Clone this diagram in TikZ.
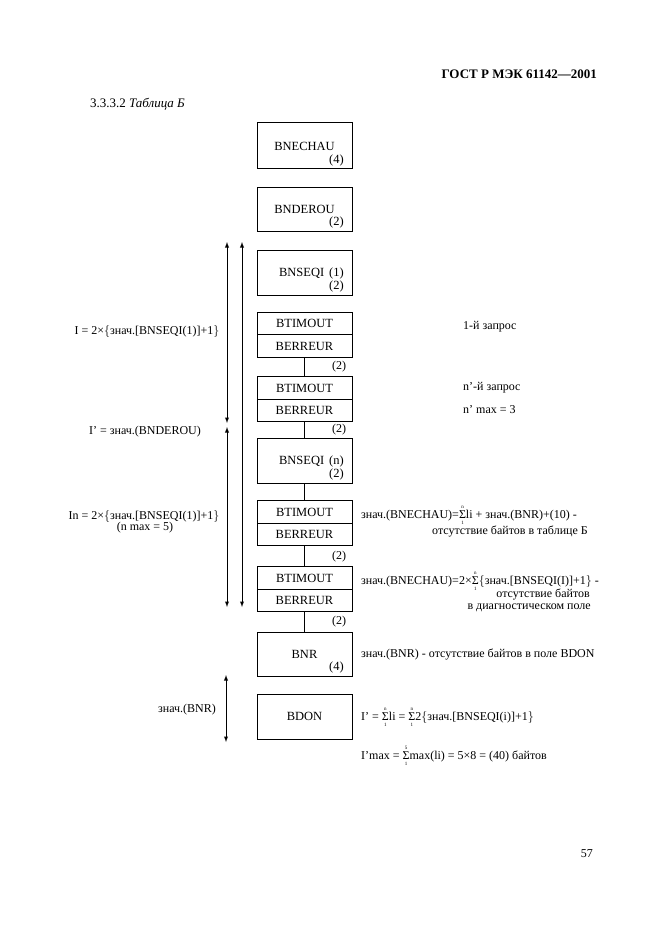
\documentclass[tikz,border=0pt]{standalone}
\usepackage{fontspec}
\setmainfont{Liberation Serif}
\usetikzlibrary{positioning}
\newcommand\sumgr[2]{\ensuremath{\mathop{\hbox{Σ}}\limits_{\hbox{\fontsize{5}{5}\selectfont #1}}^{\hbox{\fontsize{5}{5}\selectfont #2}}}}
\newcommand\klauf{\ensuremath{\bigl\{}}
\newcommand\klzu{\ensuremath{\bigr\}}}
\tikzset{
  Kasten/.style={draw, line width=1pt, minimum width=95pt, minimum height=#1,
    inner sep=0pt, outer sep=0pt, font=\fontsize{12.5}{14}\selectfont}, % für Blöcke
  Kasten/.default=45pt,
  Feld/.style={Kasten=22.5pt}, % halbe Blöcke
  Nr/.style={inner sep=0pt, anchor=base east}, % Zahlen im Block
  BNr/.style={Nr, font=\fontsize{12.5}{14}\selectfont}, % Zahlen im Block
  Txt/.style={inner sep=0pt, anchor=base west}, % Texte rechts
  Zw/.style={inner sep=0pt, anchor=west, xshift=27pt}, % Zahlen an Verbindungen
  Masz/.style={<->, line width=.9pt} % Maßpfeile
}

\begin{document}
\begin{tikzpicture}[x=1pt, y=-1pt,
font=\fontsize{12}{14}\selectfont,
>=latex % Voreinstellung für Pfeilspitzen
]
\useasboundingbox (0,0) rectangle (661,936);

%Kopf
\node[inner sep=0pt, anchor=base east, font=\fontsize{13}{15}\selectfont\bfseries] (kopf) at (597,79) {ГОСТ Р МЭК 61142—2001};
\node[Txt, font=\fontsize{13}{15}\selectfont] (titel) at (90,108) {3.3.3.2 \textit{Таблица Б}};

%Blöcke
\node[Kasten=46pt] (BNECHAU) at (304.5,146) {BNECHAU};
\node[BNr] (nBNECHAU) at ([xshift=-8pt, yshift=5.5pt]BNECHAU.south east) {(4)};

\node[Kasten=44pt] (BNDEROU) at (304.5,209) {BNDEROU};
\node[BNr] (nBNDEROU) at ([xshift=-8pt, yshift=5.5pt]BNDEROU.south east) {(2)};

\node[Kasten] (SEQ1) at (304.5,272.5) {};
\node[BNr] (tSEQ1) at ([xshift=-8pt, yshift=-4pt]SEQ1.east) {BNSEQI\hspace{5pt}(1)};
\node[BNr] (nSEQ1) at ([xshift=-8pt, yshift=5.5pt]SEQ1.south east) {(2)};

\node[Feld] (T1a) at (304.5,323.5) {BTIMOUT};
\node[Feld, below=0pt of T1a] (T1b) {BERREUR};

\node[Feld=22pt] (T2a) at (304.5,388) {BTIMOUT};
\node[Feld, below=0pt of T2a] (T2b) {BERREUR};

\node[Kasten] (SEQn) at (304.5,460.5) {};
\node[BNr] (tSEQn) at ([xshift=-8pt, yshift=-4pt]SEQn.east) {BNSEQI\hspace{5pt}(n)};
\node[BNr] (nSEQn) at ([xshift=-8pt, yshift=5.5pt]SEQn.south east) {(2)};

\node[Feld] (T3a) at (304.5,512) {BTIMOUT};
\node[Feld, below=0pt of T3a] (T3b) {BERREUR};

\node[Feld] (T4a) at (304.5,578) {BTIMOUT};
\node[Feld, below=0pt of T4a] (T4b) {BERREUR};

\node[Kasten=44pt] (BNR) at (304.5,654) {BNR};
\node[BNr] (nBNR) at ([xshift=-8pt, yshift=5.5pt]BNR.south east) {(4)};

\node[Kasten] (BDON) at (304.5,716.5) {BDON};

%Verbindungen
\draw[line width=1pt] (T1b) -- node[Zw] (z1) {(2)} (T2a);
\draw[line width=1pt] (T2b) -- node[Zw] (z2) {(2)} (SEQn);
\draw[line width=1pt] (SEQn) -- (T3a);
\draw[line width=1pt] (T3b) -- node[Zw] (z3) {(2)} (T4a);
\draw[line width=1pt] (T4b) -- node[Zw] (z4) {(2)} (BNR);

%Maßpfeile
\coordinate (A1o) at (227,242);
\coordinate (A1u) at (227,423);
\coordinate (A2o) at (227,427);
\coordinate (A2u) at (227,607);
\coordinate (B1o) at (242,242);
\coordinate (B1u) at (242,607);
\coordinate (C1o) at (226,675);
\coordinate (C1u) at (226,742);
\draw[Masz] (A1o) -- (A1u);
\draw[Masz] (A2o) -- (A2u);
\draw[Masz] (B1o) -- (B1u);
\draw[Masz] (C1o) -- (C1u);

%Beschriftung links
\node[inner sep=0pt, anchor=base] (lI) at (147,334) {I = 2×\klauf знач.[BNSEQI(1)]+1\klzu};
\node[inner sep=0pt, anchor=base] (lIs) at (145,434) {I' = знач.(BNDEROU)};
\node[inner sep=0pt, anchor=base] (lIn) at (144,519) {In = 2×\klauf знач.[BNSEQI(1)]+1\klzu};
\node[inner sep=0pt, anchor=base] (lnmax) at (145,530) {(n max = 5)};
\node[inner sep=0pt, anchor=base east] (lBNR) at (216,712) {знач.(BNR)};

%Beschriftung rechts
\node[Txt] (r1) at (463,329) {1-й запрос};
\node[Txt] (r2) at (463,390) {n'-й запрос};
\node[Txt] (r3) at (463,413) {n' max = 3};

\node[Txt] (f1) at (361,518) {знач.(BNECHAU)=\sumgr{1}{n}li + знач.(BNR)+(10) -};
\node[Nr] (f1b) at (588,534) {отсутствие байтов в таблице Б};

\node[Txt] (f2) at (361,584) {знач.(BNECHAU)=2×\sumgr{1}{n}\klauf знач.[BNSEQI(I)]+1\klzu{} -};
\node[Nr] (f2b) at (590,597) {отсутствие байтов};
\node[Nr] (f2c) at (591,609) {в диагностическом поле};

\node[Txt] (f3) at (361,657) {знач.(BNR) - отсутствие байтов в поле BDON};
\node[Txt] (f4) at (361,720) {I' = \sumgr{1}{n}li = \sumgr{1}{n}2\klauf знач.[BNSEQI(i)]+1\klzu};
\node[Txt] (f5) at (361,759) {I'max = \sumgr{1}{5}max(li) = 5×8 = (40) байтов};

%Seitenzahl
\node[Nr] (seite) at (593,857) {57};
\end{tikzpicture}
\end{document}
